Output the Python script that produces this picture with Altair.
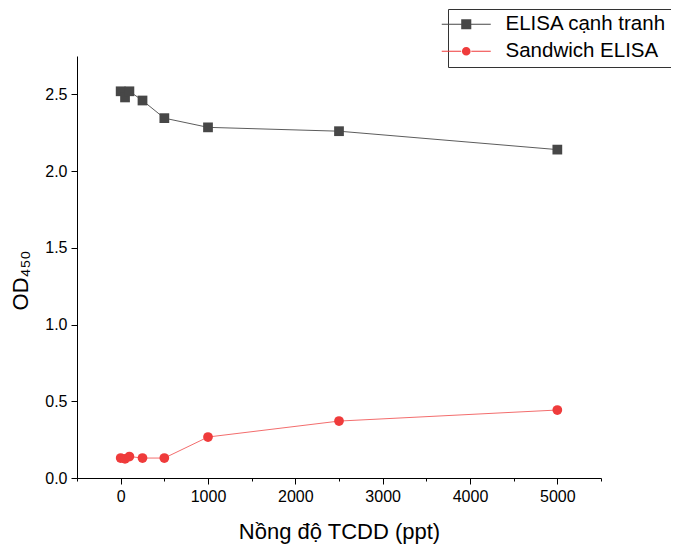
import altair as alt
import pandas as pd

# ---- data ----
conc = [0, 50, 100, 250, 500, 1000, 2500, 5000]
elisa_canh_tranh = [2.52, 2.48, 2.52, 2.46, 2.345, 2.285, 2.26, 2.14]
sandwich_elisa = [0.13, 0.125, 0.14, 0.13, 0.13, 0.267, 0.371, 0.443]
series_names = ["ELISA cạnh tranh", "Sandwich ELISA"]
marker_colors = ["#474747", "#ef3b3b"]
line_colors = ["#5c5c5c", "#f36d6d"]
y_ticks = [0.0, 0.25, 0.5, 0.75, 1.0, 1.25, 1.5, 1.75, 2.0, 2.25, 2.5, 2.75]
x_ticks = [-500, 0, 500, 1000, 1500, 2000, 2500, 3000, 3500, 4000, 4500, 5000, 5500]

rows = []
for s, vals in zip(series_names, [elisa_canh_tranh, sandwich_elisa]):
    for c, v in zip(conc, vals):
        rows.append({"conc": c, "od": v, "series": s})
df = pd.DataFrame(rows)

FONT = "Liberation Sans"

xscale = alt.Scale(domain=[-500, 5500], nice=False, zero=False)
yscale = alt.Scale(domain=[0, 2.75], nice=False, zero=False)

# legend symbols: line + marker as one filled path
sq = 0.72
lw = 0.07
line_l = f"M-3.5,-{lw}H-{sq}V{lw}H-3.5Z"
line_r = f"M{sq},-{lw}H3.5V{lw}H{sq}Z"
square_path = line_l + line_r + f"M-{sq},-{sq}H{sq}V{sq}H-{sq}Z"
r = 0.62
circle_path = line_l + line_r + f"M-{r},0A{r},{r} 0 1,0 {r},0A{r},{r} 0 1,0 -{r},0Z"

color_scale = alt.Scale(domain=series_names, range=marker_colors)

x_minor_test = "datum.value % 1000 != 0"
y_minor_test = "(datum.value * 4) % 2 == 1"

x_enc = alt.X(
    "conc:Q", scale=xscale,
    axis=alt.Axis(values=x_ticks, format="d", title="Nồng độ TCDD (ppt)",
                  labelExpr=f"{x_minor_test} ? '' : datum.label",
                  tickSize={"condition": {"test": x_minor_test, "value": 3}, "value": 6},
                  grid=False, labelPadding=4, titlePadding=17)
)
y_enc = alt.Y(
    "od:Q", scale=yscale,
    axis=alt.Axis(values=y_ticks, format=".1f", title="OD₄₅₀",
                  labelExpr=f"{y_minor_test} ? '' : datum.label",
                  tickSize={"condition": {"test": y_minor_test, "value": 3}, "value": 6},
                  grid=False, labelPadding=4, titlePadding=12,
                  titleY=224)
)

lines = alt.Chart(df).mark_line(strokeWidth=1).encode(
    x=x_enc, y=y_enc,
    color=alt.Color("series:N", scale=alt.Scale(domain=series_names, range=line_colors), legend=None),
    detail="series:N",
)

points = alt.Chart(df).mark_point(filled=True, opacity=1, size=95).encode(
    x=alt.X("conc:Q", scale=xscale),
    y=alt.Y("od:Q", scale=yscale),
    fill=alt.Fill("series:N", scale=color_scale, legend=None),
    shape=alt.Shape("series:N", scale=alt.Scale(domain=series_names, range=["square", "circle"]), legend=None),
)

legend_layer = alt.Chart(df).mark_point(filled=True, opacity=0, size=196).encode(
    x=alt.X("conc:Q", scale=xscale),
    y=alt.Y("od:Q", scale=yscale),
    color=alt.Color(
        "series:N", scale=color_scale,
        legend=alt.Legend(
            title=None, orient="none", legendX=371, legendY=-47,
            symbolOpacity=1, symbolStrokeWidth=0, symbolSize=196, symbolOffset=3,
            labelFontSize=20.5, labelFont=FONT, labelColor="black",
            labelOffset=29, rowPadding=6, padding=5,
            strokeColor="#333333", fillColor="white", cornerRadius=0,
            labelLimit=400,
        ),
    ),
    shape=alt.Shape("series2:N", scale=alt.Scale(domain=series_names, range=[square_path, circle_path]), legend=None),
).transform_calculate(series2="datum.series")

chart = alt.layer(lines, points, legend_layer).resolve_scale(
    shape="independent", color="independent"
)

chart = chart.properties(
    width=524, height=422,
    autosize=alt.AutoSizeParams(type="none"),
    padding={"left": 69, "top": 48, "right": 70, "bottom": 66},
).configure_view(stroke=None).configure_axis(
    domainColor="black", tickColor="black", domainWidth=1, tickWidth=1,
    labelFont=FONT, titleFont=FONT, labelFontSize=16, titleFontSize=22,
    labelColor="black", titleColor="black", titleFontWeight="normal",
)

chart.save("out.html", embed_options={"renderer": "svg", "actions": False})
